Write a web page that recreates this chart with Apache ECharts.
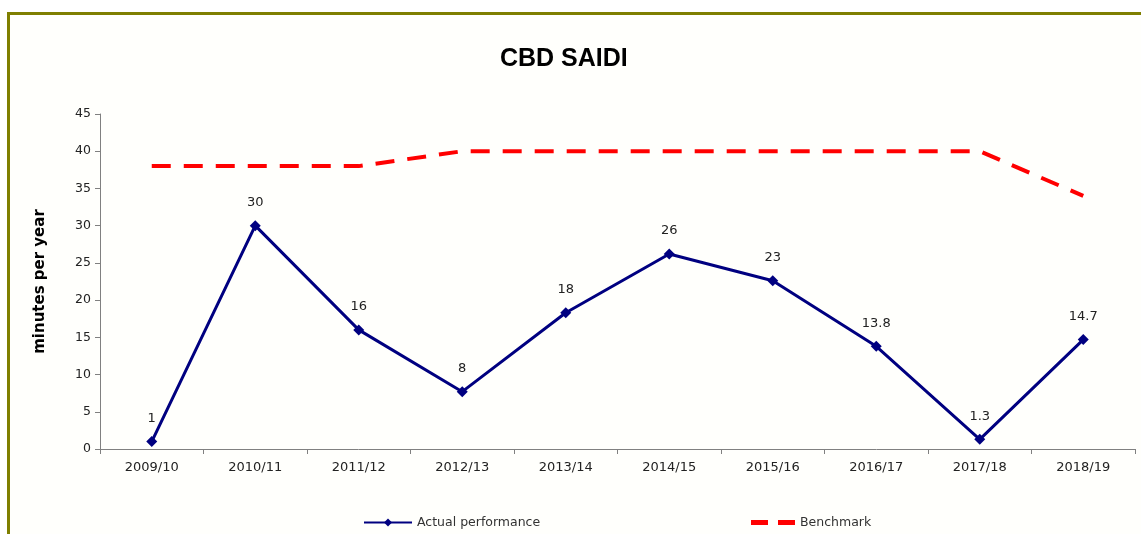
<!DOCTYPE html>
<html>
<head>
<meta charset="utf-8">
<script src="https://cdn.jsdelivr.net/npm/echarts@6/dist/echarts.min.js"></script>
<style>
  html, body { margin: 0; padding: 0; background: #ffffff; }
  .frame {
    position: absolute; left: 7px; top: 12px; width: 1134px; height: 522px;
    border-top: 3px solid #7f7f00; border-left: 3px solid #7f7f00;
    background: #fffffc; box-sizing: border-box;
  }
  #chart { position: absolute; left: 0; top: 0; width: 1141px; height: 534px; }
</style>
</head>
<body>
<div class="frame"></div>
<div id="chart"></div>
<script>
  // data
  var years = ['2009/10', '2010/11', '2011/12', '2012/13', '2013/14', '2014/15', '2015/16', '2016/17', '2017/18', '2018/19']
  var actual = [1, 30, 16, 7.7, 18.3, 26.2, 22.6, 13.8, 1.3, 14.7]
  var actualLabels = ['1', '30', '16', '8', '18', '26', '23', '13.8', '1.3', '14.7']
  var benchmark = [38, 38, 38, 40, 40, 40, 40, 40, 40, 34]
  var yTicks = [0, 5, 10, 15, 20, 25, 30, 35, 40, 45]

  var font = 'DejaVu Sans, Verdana, sans-serif'
  var chart = echarts.init(document.getElementById('chart'))

  var options = {
    animation: false,
    textStyle: { fontFamily: font },
    title: {
      text: 'CBD SAIDI',
      left: 495,
      top: 42,
      textStyle: { fontSize: 25, fontWeight: 'bold', color: '#000', fontFamily: 'Liberation Sans, Arial, sans-serif' }
    },
    grid: { left: 100, right: 6, top: 114, bottom: 85 },
    legend: [
      {
        data: ['Actual performance'],
        left: 358, top: 511,
        itemWidth: 48, itemHeight: 10,
        textStyle: { fontSize: 12.5, color: '#333', fontFamily: font }
      },
      {
        data: [{
          name: 'Benchmark',
          icon: 'path://M0,0h17v5h-17z M27,0h17v5h-17z',
          itemStyle: { color: '#ff0000' },
          lineStyle: { opacity: 0, width: 0 }
        }],
        left: 746, top: 511,
        itemWidth: 44, itemHeight: 5,
        textStyle: { fontSize: 12.5, color: '#333', fontFamily: font }
      }
    ],
    xAxis: {
      type: 'category',
      boundaryGap: true,
      data: years,
      axisLine: { lineStyle: { color: '#808080', width: 1 } },
      axisTick: { show: true, interval: 0, length: 5, lineStyle: { color: '#808080' } },
      axisLabel: { color: '#222', fontSize: 13, margin: 12, interval: 0, fontFamily: font },
      splitLine: { show: false }
    },
    yAxis: {
      type: 'value',
      min: yTicks[0],
      max: yTicks[yTicks.length - 1],
      interval: 5,
      name: 'minutes per year',
      nameLocation: 'middle',
      nameRotate: 90,
      nameGap: 52,
      nameTextStyle: { fontSize: 15, fontWeight: 'bold', color: '#000', fontFamily: font },
      axisLine: { show: true, lineStyle: { color: '#808080', width: 1 } },
      axisTick: { show: true, length: 5, lineStyle: { color: '#808080' } },
      axisLabel: { color: '#222', fontSize: 12.5, margin: 9, fontFamily: font },
      splitLine: { show: false }
    },
    series: [
      {
        name: 'Actual performance',
        type: 'line',
        data: actual,
        symbol: 'diamond',
        symbolSize: 11,
        itemStyle: { color: '#000080' },
        lineStyle: { color: '#000080', width: 3 },
        label: {
          show: true,
          position: 'top',
          distance: 11,
          color: '#222',
          fontSize: 13,
          fontFamily: font,
          formatter: function (p) { return actualLabels[p.dataIndex] }
        },
        z: 3
      },
      {
        name: 'Benchmark',
        type: 'line',
        data: benchmark,
        showSymbol: false,
        symbol: 'none',
        itemStyle: { color: '#ff0000' },
        lineStyle: { color: '#ff0000', width: 4, type: [19, 13] },
        z: 2
      }
    ]
  }

  chart.setOption(options, true)
</script>
</body>
</html>
